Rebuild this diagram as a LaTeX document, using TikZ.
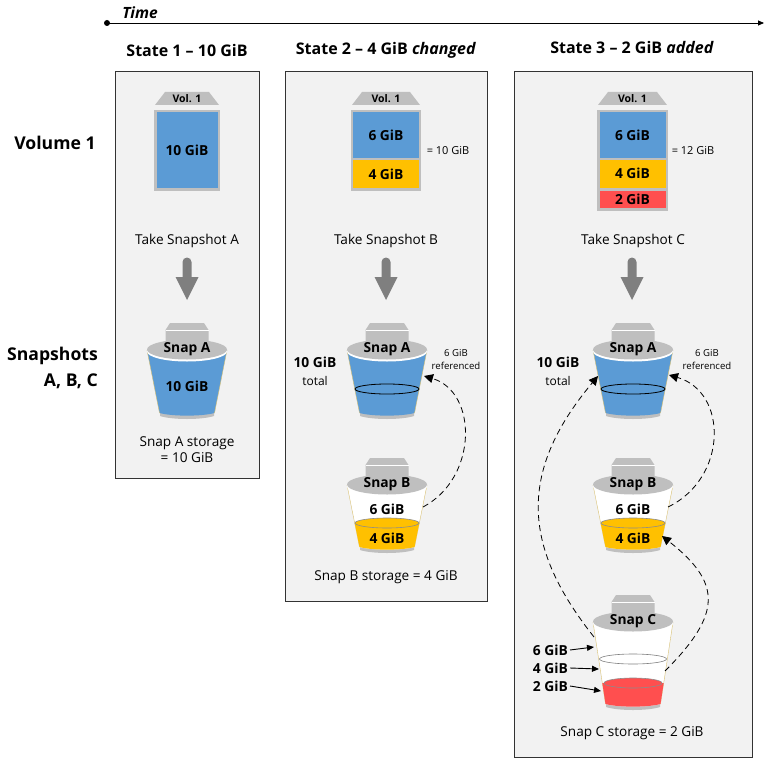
\documentclass[tikz,border=0pt]{standalone}
\usepackage{fontspec}
\setmainfont{Open Sans}
\usetikzlibrary{arrows.meta}
\definecolor{panelgrey}{HTML}{F2F2F2}
\definecolor{partgrey}{HTML}{BFBFBF}
\definecolor{arrowgrey}{HTML}{7F7F7F}
\definecolor{snapblue}{HTML}{5B9BD5}
\definecolor{snapyellow}{HTML}{FFC000}
\definecolor{snapred}{HTML}{FF4F4F}
\tikzset{
    panel/.style={draw=black!80, fill=panelgrey, line width=0.8pt},
    head/.style={font=\bfseries\fontsize{16}{18}\selectfont, inner sep=0pt},
    side/.style={font=\bfseries\fontsize{17.6}{20}\selectfont, inner sep=0pt},
    gib/.style={font=\bfseries\fontsize{13.8}{16}\selectfont, inner sep=0pt},
    note/.style={font=\fontsize{13.6}{16}\selectfont, inner sep=0pt, align=center},
    tiny/.style={font=\fontsize{11}{13}\selectfont, inner sep=0pt, align=center},
    ref/.style={dash pattern=on 6pt off 4pt, line width=0.8pt, -{Triangle[length=9pt,width=9pt]}},
    pointer/.style={line width=0.9pt, -{Triangle[length=7pt,width=6pt]}},
}
% volume tab and frame: x, half width, bottom of frame, node name
\newcommand{\volframe}[4]{
    \begin{scope}[shift={(#1,0)}]
        \fill[partgrey] (-#2+1,105) -- (-#2+11,92) -- (#2-11,92) -- (#2-1,105) -- cycle;
        \node[gib, font=\bfseries\fontsize{10.5}{12}\selectfont] (#4) at (0,98.5) {Vol. 1};
        \fill[partgrey] (-#2,110) rectangle (#2,#3);
    \end{scope}
}
\newcommand{\bucketshape}{(-40,27) -- (-27.5,\bh-6) .. controls (-15,\bh-2.5) and (15,\bh-2.5) .. (27.5,\bh-6) -- (40,27) -- cycle}
% bucket: x, y of tab top, height, fill of body
\newcommand{\snapbucket}[4]{
    \begin{scope}[shift={(#1,#2)}]
        \def\bh{#3}
        \fill[partgrey] (-27,\bh-9) -- (-27,\bh-3) .. controls (-15,\bh+1) and (15,\bh+1) .. (27,\bh-3) -- (27,\bh-9) -- cycle;
        \fill[#4] \bucketshape;
        \draw[snapyellow!40!partgrey, line width=0.4pt] (-40,27) -- (-27.5,\bh-6) (27.5,\bh-6) -- (40,27);
    \end{scope}
}
% lid on top of a bucket: x, y of tab top, node name, label
\newcommand{\snaplid}[4]{
    \begin{scope}[shift={(#1,#2)}]
        \fill[white] (0,28.5) ellipse (40pt and 10pt);
        \fill[partgrey] (0,26.5) ellipse (40pt and 10pt);
        \fill[partgrey] (-21.5,18) -- (-21.5,7) -- (-17,0) -- (17,0) -- (21.5,7) -- (21.5,18) -- cycle;
        \fill[white] (-21.5,7.2) rectangle (21.5,8.4);
        \node[gib] (#3) at (0,26) {#4};
    \end{scope}
}
% level inside a bucket: x, y of tab top, height, y of level, half width, colour
\newcommand{\snaplevel}[6]{
    \begin{scope}[shift={(#1,#2)}]
        \def\bh{#3}
        \begin{scope}
            \clip \bucketshape;
            \fill[#6] (-45,#4) rectangle (45,\bh);
        \end{scope}
        \fill[#6] (0,#4) ellipse (#5pt and 5pt);
        \draw[black!45, line width=0.6pt] (0,#4) ellipse (#5pt and 5pt);
    \end{scope}
}
\newcommand{\bigarrow}[1]{
    \fill[arrowgrey] (#1-4.5,277) -- (#1-4.5,262) arc (180:0:4.5pt) -- (#1+4.5,277) -- (#1+11.5,277) -- (#1,300) -- (#1-11.5,277) -- cycle;
}
\begin{document}
\begin{tikzpicture}[x=1pt,y=-1pt]
    \useasboundingbox (0,0) rectangle (767,762);

    % time line
    \coordinate (timestart) at (107,23);
    \coordinate (timeend) at (764,23);
    \fill[black] (timestart) circle (3pt);
    \draw[line width=0.8pt, -{Triangle[length=6pt,width=5pt]}] (timestart) -- (timeend);
    \node[head, font=\bfseries\itshape\fontsize{15.5}{18}\selectfont] (timelabel) at (140,13) {Time};

    \node[side] (vollabel) at (55,143) {Volume 1};
    \node[side, anchor=east] (snaplabel) at (98,356) {Snapshots};
    \node[side, anchor=east] (snaplist) at (98,381) {A, B, C};

    % the three states
    \draw[panel] (115,71) rectangle (259,478);
    \draw[panel] (285,71) rectangle (487,601);
    \draw[panel] (514,71) rectangle (752,757);

    \node[head] (statea) at (187,50.5) {State 1 – 10 GiB};
    \node[head] (stateb) at (386,50.5) {State 2 – 4 GiB \textit{changed}};
    \node[head] (statec) at (632,47.5) {State 3 – 2 GiB \textit{added}};

    % volume, state 1
    \volframe{187}{33}{191}{vola}
    \fill[snapblue] (156.5,112.5) rectangle (217.5,188);
    \node[gib] (volagib) at (187,150) {10 GiB};

    % volume, state 2
    \volframe{386}{35}{191}{volb}
    \fill[snapblue] (353,112.5) rectangle (419,158);
    \fill[snapyellow] (353,160) rectangle (419,188);
    \node[gib] (volbsix) at (386,135) {6 GiB};
    \node[gib] (volbfour) at (386,174) {4 GiB};
    \node[tiny] (volbsum) at (448,150.5) {= 10 GiB};

    % volume, state 3
    \volframe{632.5}{35.5}{211}{volc}
    \fill[snapblue] (599.5,112) rectangle (665.5,158);
    \fill[snapyellow] (599.5,160) rectangle (665.5,188);
    \fill[snapred] (599.5,191) rectangle (665.5,208);
    \node[gib] (volcsix) at (632.5,135) {6 GiB};
    \node[gib] (volcfour) at (632.5,173.5) {4 GiB};
    \node[gib] (volctwo) at (632.5,199) {2 GiB};
    \node[tiny] (volcsum) at (693,150.5) {= 12 GiB};

    \node[note] (takea) at (187,241) {Take Snapshot A};
    \node[note] (takeb) at (386,241) {Take Snapshot B};
    \node[note] (takec) at (633,241) {Take Snapshot C};
    \bigarrow{187}
    \bigarrow{386}
    \bigarrow{632}

    % buckets, state 1
    \snapbucket{187}{323}{96}{snapblue}
    \snaplid{187}{323}{aone}{Snap A}
    \node[gib] (aonegib) at (187,386) {10 GiB};
    \node[note] (aonenote) at (187,450) {Snap A storage\\= 10 GiB};

    % buckets, state 2
    \snapbucket{387}{323}{96}{snapblue}
    \draw[black, line width=0.8pt] (387,389) ellipse (32pt and 5pt);
    \snaplid{387}{323}{atwo}{Snap A}
    \snapbucket{387}{458}{95}{white}
    \snaplevel{387}{458}{95}{65}{32}{snapyellow}
    \snaplid{387}{458}{btwo}{Snap B}
    \node[gib] (btwosix) at (387,509) {6 GiB};
    \node[gib] (btwofour) at (387,538) {4 GiB};
    \node[gib] (totalb) at (315,362) {10 GiB};
    \node[note, font=\fontsize{12}{14}\selectfont] (totalbnote) at (315,381) {total};
    \node[tiny, font=\fontsize{9.6}{13}\selectfont] (refb) at (456,360) {6 GiB\\referenced};
    \node[note] (btwonote) at (386,577.5) {Snap B storage = 4 GiB};
    \coordinate (btwoout) at (423,507);
    \coordinate (atwoin) at (424,376);
    \draw[ref] (btwoout) .. controls (478,478) and (478,392) .. (atwoin);

    % buckets, state 3
    \snapbucket{633}{323}{96}{snapblue}
    \draw[black, line width=0.8pt] (633,389) ellipse (32pt and 5pt);
    \snaplid{633}{323}{athree}{Snap A}
    \snapbucket{633}{458}{95}{white}
    \snaplevel{633}{458}{95}{65}{32}{snapyellow}
    \snaplid{633}{458}{bthree}{Snap B}
    \snapbucket{633}{595}{115}{white}
    \draw[black!50, line width=0.6pt] (633,659) ellipse (33.5pt and 5pt);
    \snaplevel{633}{595}{115}{88}{29}{snapred}
    \snaplid{633}{595}{cthree}{Snap C}
    \node[gib] (bthreesix) at (633,509) {6 GiB};
    \node[gib] (bthreefour) at (633,538) {4 GiB};
    \node[gib] (totalc) at (558,362) {10 GiB};
    \node[note, font=\fontsize{12}{14}\selectfont] (totalcnote) at (558,381) {total};
    \node[tiny, font=\fontsize{9.6}{13}\selectfont] (refc) at (707,360) {6 GiB\\referenced};
    \node[note] (cthreenote) at (632,733) {Snap C storage = 2 GiB};

    \coordinate (bthreeout) at (668,507);
    \coordinate (athreein) at (669,375);
    \draw[ref] (bthreeout) .. controls (728,478) and (728,392) .. (athreein);
    \coordinate (cthreeleft) at (594,637);
    \coordinate (athreeleft) at (598,376);
    \draw[ref] (cthreeleft) .. controls (525,550) and (515,475) .. (athreeleft);
    \coordinate (cthreeright) at (665,671);
    \coordinate (bthreein) at (662,536);
    \draw[ref] (cthreeright) .. controls (722,614) and (722,583) .. (bthreein);

    \node[gib, anchor=east] (csix) at (568,650) {6 GiB};
    \node[gib, anchor=east] (cfour) at (568,668) {4 GiB};
    \node[gib, anchor=east] (ctwo) at (568,686) {2 GiB};
    \coordinate (csixend) at (594,647);
    \coordinate (cfourend) at (599,669);
    \coordinate (ctwoend) at (601,691);
    \draw[pointer] (csix.east) ++(2,0) -- (csixend);
    \draw[pointer] (cfour.east) ++(2,0) -- (cfourend);
    \draw[pointer] (ctwo.east) ++(2,0) -- (ctwoend);
\end{tikzpicture}
\end{document}
